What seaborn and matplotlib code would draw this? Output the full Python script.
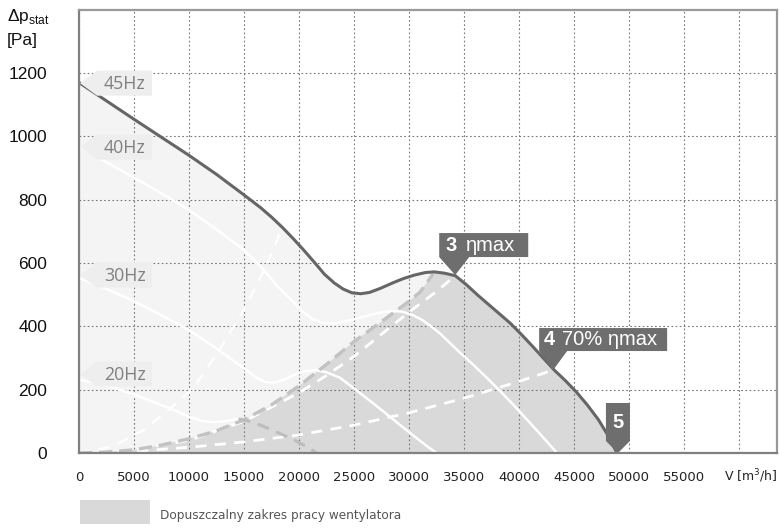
"""Fan characteristic chart: static pressure vs air flow for several frequencies."""

import matplotlib

matplotlib.use("Agg")
import matplotlib.pyplot as plt
import matplotlib.transforms as mtransforms
import seaborn as sns
from matplotlib.patches import Polygon, Rectangle

# --- data -------------------------------------------------------------------
hz45_x = [0, 2500, 5000, 7500, 10000, 12500, 15000, 16500, 17500, 18500, 19500,
          20500, 21500, 22300, 23200, 24000, 24800, 25600, 26400, 27400, 28500,
          29500, 30500, 31500, 32300, 33200, 34200, 35200, 36200, 37200, 38200,
          39200, 40200, 41200, 42200, 43200, 44200, 45200, 46200, 47200, 48100, 48900]
hz45_y = [1170, 1112, 1054, 997, 940, 880, 815, 775, 745, 712, 676,
          638, 598, 565, 537, 518, 506, 503, 507, 520, 537,
          551, 562, 570, 572, 568, 560, 532, 500, 470, 440,
          410, 375, 338, 300, 262, 229, 193, 152, 106, 55, 0]

hz40_x = [0, 2500, 5000, 7500, 10000, 12500, 15000, 16500, 18000, 19400, 20300,
          21200, 22200, 23200, 24300, 25300, 26300, 27300, 28300, 29300, 30300,
          31200, 32000, 32800, 33700, 34600, 35800, 37000, 38300, 39600, 41000,
          42300, 43450]
hz40_y = [968, 918, 870, 820, 767, 706, 641, 590, 528, 480, 448,
          424, 411, 409, 416, 425, 434, 443, 448, 447, 436,
          420, 400, 378, 348, 318, 280, 240, 195, 148, 95,
          45, 0]

hz30_x = [0, 2100, 4800, 7500, 10000, 12500, 14000, 15200, 16200, 17000, 17800,
          18800, 19600, 20500, 21500, 22500, 23700, 24700, 25700, 26700, 28000,
          29200, 30400, 31500, 32500]
hz30_y = [552, 524, 483, 435, 388, 330, 292, 262, 236, 224, 222,
          233, 248, 258, 262, 255, 238, 212, 185, 158, 122,
          88, 55, 25, 0]

hz20_x = [0, 1500, 3000, 5000, 6600, 8200, 9200, 10200, 11200, 12200, 13200, 14500]
hz20_y = [232, 222, 208, 185, 163, 142, 127, 112, 101, 97, 100, 108]
hz20_tail_x = [14500, 15500, 16500, 17500, 18500, 19500, 20600, 21600]
hz20_tail_y = [108, 100, 88, 73, 58, 42, 22, 0]

# upper edge of the allowed working range
range_x = [0, 2500, 5000, 7500, 10000, 12500, 15000, 17500, 20000, 22500,
           25000, 27500, 30000, 31000, 32200]
range_y = [0, 3, 10, 25, 45, 70, 105, 152, 212, 280, 352, 415, 479, 508, 566]

# system curves
eta_max_x = [0, 5000, 10000, 15000, 17500, 20000, 22500, 25000, 27500, 30000, 32500, 34200]
eta_max_y = [0, 10, 40, 100, 145, 190, 245, 305, 375, 445, 510, 560]
eta70_x = [0, 5000, 10000, 15000, 20000, 25000, 30000, 35000, 40000, 43100]
eta70_y = [0, 5, 18, 35, 57, 88, 127, 173, 226, 262]
steep_x = [0, 3000, 6000, 8500, 10400, 12700, 15200, 16500, 17600, 18500]
steep_y = [0, 20, 75, 147, 205, 322, 465, 555, 637, 715]

hz_labels = ["45Hz", "40Hz", "30Hz", "20Hz"]
hz_label_y = [1168, 966, 562, 249]

x_ticks = list(range(0, 60001, 5000))
x_ticklabels = [str(v) for v in range(0, 55001, 5000)] + [""]
y_ticks = list(range(0, 1201, 200))

# --- figure -------------------------------------------------------------------
sns.set_style("white")
W, H = 779, 529
fig = plt.figure(figsize=(W / 100, H / 100), dpi=100)
ax = fig.add_axes([79 / W, 76 / H, (777 - 79) / W, (453 - 9.7) / H])
ax.set_xlim(0, 63450)
ax.set_ylim(0, 1400)

# fills
ax.fill_between(hz45_x, hz45_y, 0, color="#f4f4f4", lw=0, zorder=1)
dark_x = range_x + [x for x in hz45_x if x > range_x[-1]]
dark_y = range_y + [y for x, y in zip(hz45_x, hz45_y) if x > range_x[-1]]
ax.fill(dark_x, dark_y, color="#d9d9d9", lw=0, zorder=1.1)

# grid
ax.set_axisbelow(False)
ax.grid(True, color="#777777", lw=0.8, linestyle=(0, (1.5, 2.2)))

white = "#ffffff"
for xs, ys in [(hz40_x, hz40_y), (hz30_x, hz30_y), (hz20_x, hz20_y)]:
    sns.lineplot(x=xs, y=ys, ax=ax, color=white, lw=1.8, zorder=3)

sns.lineplot(x=steep_x, y=steep_y, ax=ax, color=white, lw=1.6, zorder=3,
             linestyle=(0, (5, 4)))
sns.lineplot(x=eta_max_x, y=eta_max_y, ax=ax, color=white, lw=2.0, zorder=3,
             linestyle=(0, (4, 3)))
sns.lineplot(x=eta70_x, y=eta70_y, ax=ax, color=white, lw=2.0, zorder=3,
             linestyle=(0, (4, 3)))
sns.lineplot(x=range_x, y=range_y, ax=ax, color="#c2c2c2", lw=2.4, zorder=3.2,
             linestyle=(0, (4, 2)))
sns.lineplot(x=hz20_tail_x, y=hz20_tail_y, ax=ax, color="#bdbdbd", lw=2.2,
             zorder=3.2, linestyle=(0, (4, 2.5)))
sns.lineplot(x=hz45_x, y=hz45_y, ax=ax, color="#666666", lw=2.2, zorder=4)


def anchored(x, y):
    # pixel offsets around a data point
    return mtransforms.Affine2D() + mtransforms.ScaledTranslation(x, y, ax.transData)


# frequency tags
for lab, yv in zip(hz_labels, hz_label_y):
    verts = [(1, 0), (18, 12.5), (73, 12.5), (73, -12.5), (18, -12.5)]
    ax.add_patch(Polygon(verts, closed=True, transform=anchored(0, yv),
                         facecolor="#eeeeee", edgecolor="none", zorder=5))
    ax.annotate(lab, xy=(0, yv), xytext=(46, -1), textcoords="offset pixels",
                ha="center", va="center", fontsize=12.8, color="#808080",
                family="Open Sans", zorder=6)

# dark pointer tags
tag_color = "#6e6e6e"
tags = [
    # anchor, box (x0, x1, y0, y1), pointer (left, tip, right), bold, rest
    ((34200, 562), (-16, 73, 18, 42), (-16, 0, 14), "3", "ηmax", -10, 11),
    ((43100, 262), (-14, 114, 19, 42), (-14, 0, 14), "4", "70% ηmax", -9, 9),
    ((48900, 0), (-11, 13, 12, 50), (-11, 1, 13), "5", "", -5, 0),
]
for (ax_x, ax_y), (x0, x1, y0, y1), (pl, pt, pr), bold, rest, bx, rx in tags:
    verts = [(x0, y1), (x1, y1), (x1, y0), (pr, y0), (pt, 0), (pl, y0), (x0, y0)]
    ax.add_patch(Polygon(verts, closed=True, transform=anchored(ax_x, ax_y),
                         facecolor=tag_color, edgecolor="none", zorder=6,
                         clip_on=False))
    yc = (y0 + y1) / 2
    ax.annotate(bold, xy=(ax_x, ax_y), xytext=(bx, yc), textcoords="offset pixels",
                ha="left", va="center", fontsize=14.5, fontweight="bold",
                color="white", family="Liberation Sans", zorder=7,
                annotation_clip=False)
    if rest:
        ax.annotate(rest, xy=(ax_x, ax_y), xytext=(rx, yc),
                    textcoords="offset pixels", ha="left", va="center",
                    fontsize=14.5, color="white", family="Liberation Sans",
                    zorder=7, annotation_clip=False)

# axes styling
for side, spine in ax.spines.items():
    spine.set_visible(True)
    spine.set_linewidth(1.6)
    spine.set_color("#999999" if side in ("top", "right") else "#808080")
    spine.set_zorder(8)

ax.set_xticks(x_ticks)
ax.set_xticklabels(x_ticklabels, fontsize=9.5, color="#222222", family="DejaVu Sans")
ax.set_yticks(y_ticks)
ax.set_yticklabels([str(v) for v in y_ticks], fontsize=12.5, color="#111111",
                   family="Liberation Sans", ha="right")
ax.tick_params(axis="x", length=0, pad=13)
ax.tick_params(axis="y", length=0, pad=23)
ax.set_xlabel("")
ax.set_ylabel("")

fig.text(778 / W, 1 - 476 / H, "V [m$^3$/h]", ha="right", va="center",
         fontsize=9, color="#222222", family="DejaVu Sans")
fig.text(7 / W, 1 - 17 / H, "Δp$_\\mathregular{stat}$", ha="left", va="center",
         fontsize=12.5, color="#111111", family="Liberation Sans")
fig.text(7 / W, 1 - 41 / H, "[Pa]", ha="left", va="center",
         fontsize=12.5, color="#111111", family="Liberation Sans")

fig.add_artist(Rectangle((80 / W, 1 - 524 / H), 70 / W, 24 / H,
                         transform=fig.transFigure, facecolor="#d9d9d9",
                         edgecolor="none"))
fig.text(160 / W, 1 - 516 / H, "Dopuszczalny zakres pracy wentylatora",
         ha="left", va="center", fontsize=8.7, color="#555555",
         family="DejaVu Sans")

fig.savefig("out.png", dpi=100)
